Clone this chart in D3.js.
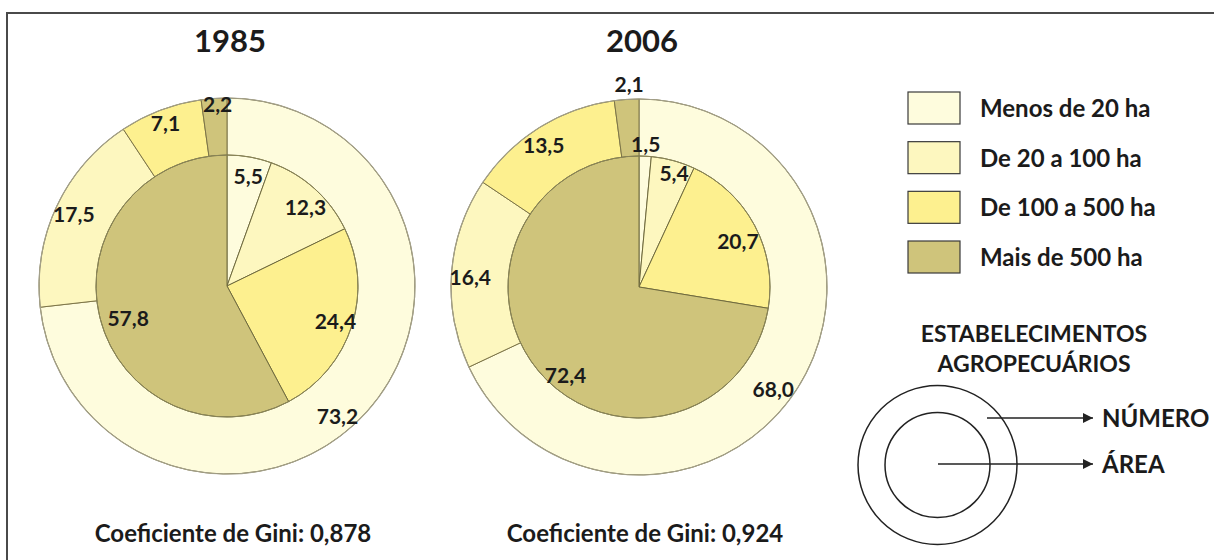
<!DOCTYPE html>
<html><head><meta charset="utf-8">
<script src="https://cdn.jsdelivr.net/npm/d3@7"></script>
<style>
html,body{margin:0;padding:0;background:#fff;}
text{font-family:Lato,"Open Sans",sans-serif;font-weight:700;fill:#1b1b1b;}
</style></head>
<body><svg id="chart" width="1214" height="560"></svg>
<script>
// ---- data ----
const categories = ["Menos de 20 ha","De 20 a 100 ha","De 100 a 500 ha","Mais de 500 ha"];
const years = ["1985","2006"];
const numero1985 = [73.2, 17.5, 7.1, 2.2];   // outer ring: number of establishments (%)
const area1985   = [5.5, 12.3, 24.4, 57.8];  // inner pie: area (%)
const numero2006 = [68.0, 16.4, 13.5, 2.1];
const area2006   = [1.5, 5.4, 20.7, 72.4];
const gini = ["0,878", "0,924"];
const legendTitle = ["ESTABELECIMENTOS", "AGROPECUÁRIOS"];
const keyLabels = ["NÚMERO", "ÁREA"];

// ---- style / layout ----
const colors = ["#fefcdd", "#fdf7bf", "#fdf08f", "#cfc47b"];
const rInner = 131, rOuter = 188;
const centers = [{x:227, y:286}, {x:639, y:287}];
// label placement tweaks (radius in px, angular shift in degrees from slice middle)
const labelLayout = {
  "1985": {outerR:[171,169,174,182], outerShift:[8,0,0,1], innerR:[112,111,114,104], innerShift:[1,3,0,-4]},
  "2006": {outerR:[169,169,171,203], outerShift:[5,-1,-2,1], innerR:[143,119,109,115], innerShift:[0,2,3,-10]}
};

const svg = d3.select("#chart");
svg.append("rect").attr("x",7).attr("y",13).attr("width",1300).attr("height",700)
   .attr("fill","#fff").attr("stroke","#4a4a4a").attr("stroke-width",2);

const pie = d3.pie().sort(null).value(d => d);
const fmt = v => v.toFixed(1).replace(".", ",");

function drawChart(i, numero, area){
  const c = centers[i], yr = years[i], L = labelLayout[yr];
  const g = svg.append("g").attr("transform", `translate(${c.x},${c.y})`);
  const outerArcs = pie(numero), innerArcs = pie(area);
  const arcOuter = d3.arc().innerRadius(0).outerRadius(rOuter);
  const arcInner = d3.arc().innerRadius(0).outerRadius(rInner);
  g.selectAll("path.o").data(outerArcs).join("path").attr("class","o")
    .attr("d", arcOuter).attr("fill",(d,j)=>colors[j])
    .attr("stroke","#7d7548").attr("stroke-width",1);
  g.append("circle").attr("r",rOuter).attr("fill","none").attr("stroke","#a3a08a").attr("stroke-width",1.2);
  g.selectAll("path.i").data(innerArcs).join("path").attr("class","i")
    .attr("d", arcInner).attr("fill",(d,j)=>colors[j])
    .attr("stroke","#6f6a3e").attr("stroke-width",1);
  g.append("circle").attr("r",rInner).attr("fill","none").attr("stroke","#8a8558").attr("stroke-width",1);

  const pos = (d, r, shiftDeg) => {
    const a = (d.startAngle + d.endAngle)/2 + shiftDeg*Math.PI/180;
    return [Math.sin(a)*r, -Math.cos(a)*r];
  };
  g.selectAll("text.o").data(outerArcs).join("text").attr("class","o")
    .attr("transform",(d,j)=>{const p=pos(d,L.outerR[j],L.outerShift[j]);return `translate(${p[0]},${p[1]})`;})
    .attr("text-anchor","middle").attr("dy","0.36em").attr("font-size",21)
    .text(d=>fmt(d.data));
  g.selectAll("text.i").data(innerArcs).join("text").attr("class","i")
    .attr("transform",(d,j)=>{const p=pos(d,L.innerR[j],L.innerShift[j]);return `translate(${p[0]},${p[1]})`;})
    .attr("text-anchor","middle").attr("dy","0.36em").attr("font-size",21)
    .text(d=>fmt(d.data));

  svg.append("text").attr("x",c.x+3).attr("y",52).attr("text-anchor","middle")
     .attr("font-size",31).text(yr);
  svg.append("text").attr("x",c.x+6).attr("y",542).attr("text-anchor","middle")
     .attr("font-size",24).text("Coeficiente de Gini: " + gini[i]);
}
drawChart(0, numero1985, area1985);
drawChart(1, numero2006, area2006);

// ---- legend ----
const legY = d3.scalePoint().domain(categories).range([108, 257]);
const leg = svg.append("g");
categories.forEach((cat,j)=>{
  const y = legY(cat);
  leg.append("rect").attr("x",908).attr("y",y-16).attr("width",52).attr("height",32)
     .attr("fill",colors[j]).attr("stroke","#3a3a3a").attr("stroke-width",1.2);
  leg.append("text").attr("x",980).attr("y",y+9).attr("font-size",24).text(cat);
});
legendTitle.forEach((t,j)=>{
  svg.append("text").attr("x",1034).attr("y",342+j*30).attr("text-anchor","middle")
     .attr("font-size",23).text(t);
});
// key diagram
const kc = {x:937.5, y:465};
svg.append("circle").attr("cx",kc.x).attr("cy",kc.y).attr("r",79.5).attr("fill","none").attr("stroke","#222").attr("stroke-width",1.5);
svg.append("circle").attr("cx",kc.x).attr("cy",kc.y).attr("r",52.5).attr("fill","none").attr("stroke","#222").attr("stroke-width",1.5);
const defs = svg.append("defs");
defs.append("marker").attr("id","ah").attr("viewBox","0 0 10 10").attr("refX",10).attr("refY",5)
  .attr("markerWidth",12).attr("markerHeight",10).attr("markerUnits","userSpaceOnUse").attr("orient","auto")
  .append("path").attr("d","M0,0L10,5L0,10Z").attr("fill","#222");
const keyY = [418, 464], keyX0 = [987, 938];
keyLabels.forEach((k,j)=>{
  svg.append("line").attr("x1",keyX0[j]).attr("y1",keyY[j]).attr("x2",1093).attr("y2",keyY[j])
     .attr("stroke","#222").attr("stroke-width",1.5).attr("marker-end","url(#ah)");
  svg.append("text").attr("x",1102).attr("y",keyY[j]+9).attr("font-size",24).text(k);
});
</script></body></html>
